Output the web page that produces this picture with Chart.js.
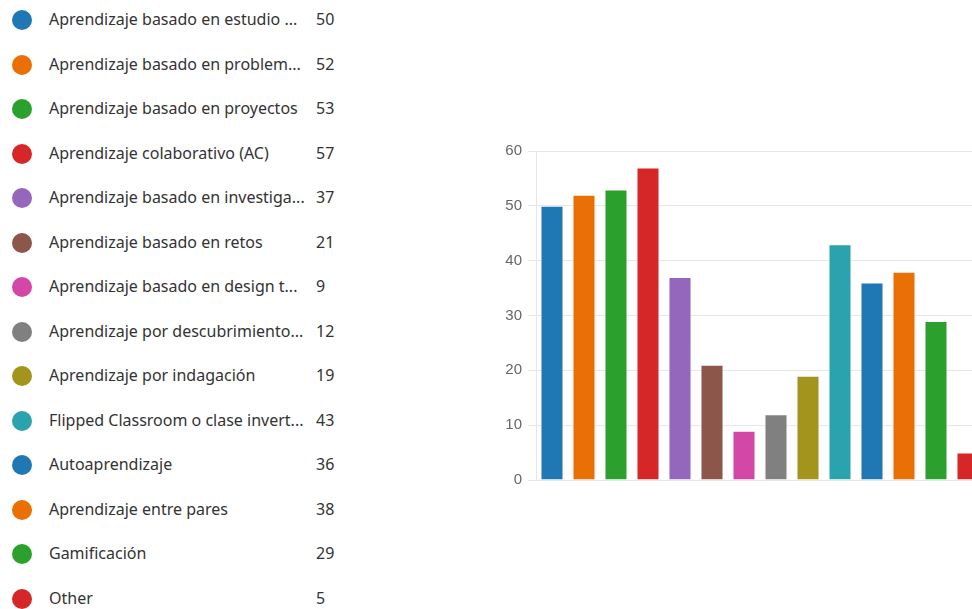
<!DOCTYPE html>
<html>
<head>
<meta charset="utf-8">
<script src="https://cdn.jsdelivr.net/npm/chart.js@4/dist/chart.umd.min.js"></script>
<style>
  html, body { margin: 0; padding: 0; background: #fff; overflow: hidden; width: 972px; height: 609px; }
  #legend { position: absolute; left: 0; top: 0; font-family: "Noto Sans", sans-serif; font-size: 16px; color: #333; }
  .row { position: absolute; left: 0; height: 24px; width: 340px; }
  .dot { position: absolute; left: 12px; top: 2px; width: 20px; height: 20px; border-radius: 50%; }
  .lbl { position: absolute; left: 49px; top: 0px; white-space: nowrap; }
  .val { position: absolute; left: 316px; top: 0px; }
  #wrap { position: absolute; left: 480px; top: 136px; width: 504px; height: 359px; }
</style>
</head>
<body>
<div id="legend"></div>
<div id="wrap"><canvas id="chart"></canvas></div>
<script>
var labels = [
  "Aprendizaje basado en estudio ...",
  "Aprendizaje basado en problem...",
  "Aprendizaje basado en proyectos",
  "Aprendizaje colaborativo (AC)",
  "Aprendizaje basado en investiga...",
  "Aprendizaje basado en retos",
  "Aprendizaje basado en design t...",
  "Aprendizaje por descubrimiento...",
  "Aprendizaje por indagación",
  "Flipped Classroom o clase invert...",
  "Autoaprendizaje",
  "Aprendizaje entre pares",
  "Gamificación",
  "Other"
];
var counts = [50, 52, 53, 57, 37, 21, 9, 12, 19, 43, 36, 38, 29, 5];
var colors = ["#1f77b4", "#ea7006", "#2ca02c", "#d62728", "#9467bd", "#8c564b", "#d347a7",
              "#808080", "#a3941d", "#2aa3ae", "#1f77b4", "#ea7006", "#2ca02c", "#d62728"];
var yTicks = [0, 10, 20, 30, 40, 50, 60];

// legend on the left, one row per category
var legend = document.getElementById("legend");
labels.forEach(function(l, i) {
  var row = document.createElement("div");
  row.className = "row";
  row.style.top = (8 + i * 44.5) + "px";
  row.innerHTML = '<span class="dot" style="background:' + colors[i] + '"></span>' +
    '<span class="lbl">' + l + '</span><span class="val">' + counts[i] + '</span>';
  legend.appendChild(row);
});

new Chart(document.getElementById("chart"), {
  type: "bar",
  data: {
    labels: labels,
    datasets: [{
      data: counts,
      backgroundColor: colors,
      borderColor: "rgba(255,255,255,0.5)",
      borderWidth: 1,
      barPercentage: 0.8,
      categoryPercentage: 0.9
    }]
  },
  options: {
    responsive: true,
    maintainAspectRatio: false,
    animation: false,
    layout: { padding: { top: 12, right: 0, bottom: 10, left: 0 } },
    plugins: { legend: { display: false }, tooltip: { enabled: false } },
    scales: {
      x: { display: false },
      y: {
        min: 0,
        max: 60,
        afterFit: function(axis) { axis.width = 56; },
        afterBuildTicks: function(axis) { axis.ticks = yTicks.map(function(v) { return { value: v }; }); },
        ticks: { color: "#666", padding: 6, font: { family: "Liberation Sans", size: 15 } },
        grid: { color: "#e6e6e6", tickLength: 8 },
        border: { color: "#e6e6e6" }
      }
    }
  }
});
</script>
</body>
</html>
